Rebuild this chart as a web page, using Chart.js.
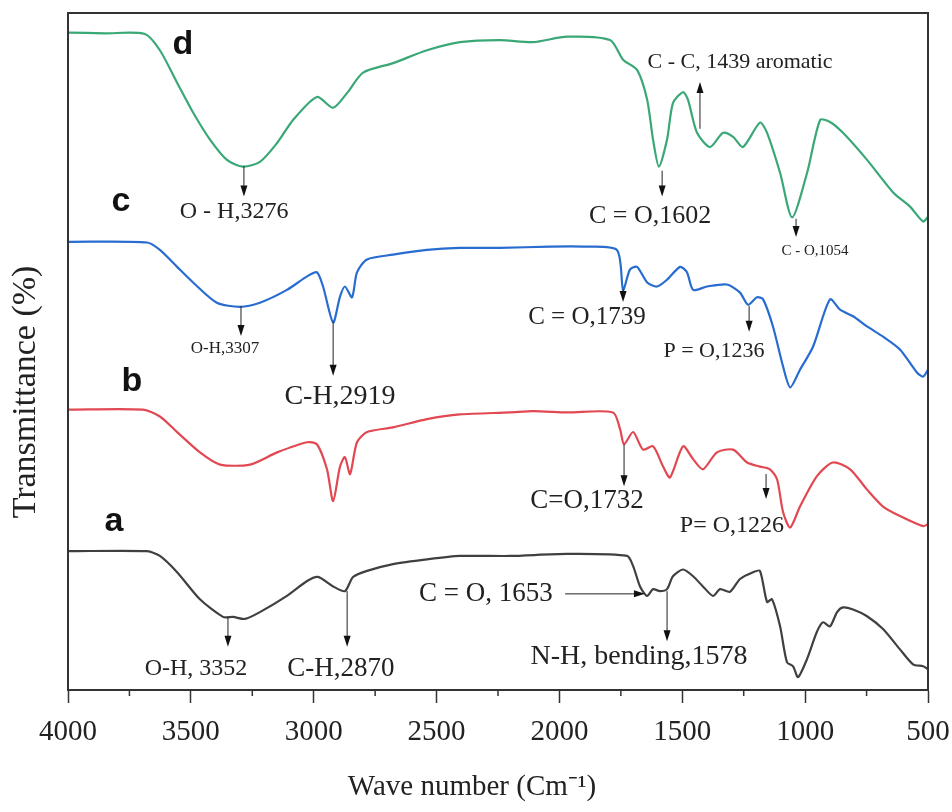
<!DOCTYPE html>
<html>
<head>
<meta charset="utf-8">
<script src="https://cdn.jsdelivr.net/npm/chart.js@4.4.1/dist/chart.umd.min.js"></script>
<style>
  html, body { margin: 0; padding: 0; background: #fff; }
</style>
</head>
<body>
<canvas id="ftirChart" width="952" height="812"></canvas>
<script>
// wavenumber (cm-1) and transmittance (arbitrary, stacked) for each sample
const waveD = [4000, 3850, 3687, 3626, 3556, 3491, 3422, 3353, 3288, 3219, 3149, 3084, 2987, 2921, 2864, 2799, 2677, 2539, 2405, 2242, 2107, 1969, 1794, 1741, 1684, 1643, 1619, 1595, 1562, 1538, 1497, 1477, 1440, 1387, 1334, 1293, 1253, 1184, 1155, 1102, 1053, 992, 939, 899, 846, 748, 642, 573, 520, 500];
const transD = [97.1, 97.0, 96.9, 94.5, 89.7, 85.3, 81.3, 78.3, 77.3, 78.0, 80.8, 84.2, 87.6, 86.0, 88.2, 91.2, 92.6, 94.5, 95.7, 96.0, 95.7, 96.5, 96.0, 93.1, 91.6, 87.2, 81.3, 77.3, 81.3, 86.7, 88.3, 87.2, 82.3, 80.2, 82.3, 81.7, 80.2, 83.8, 82.3, 76.4, 69.8, 76.4, 84.2, 83.9, 82.3, 78.3, 73.5, 71.4, 69.2, 69.9];

const waveC = [4000, 3678, 3626, 3556, 3491, 3394, 3300, 3219, 3109, 3027, 2987, 2962, 2921, 2893, 2873, 2844, 2824, 2783, 2677, 2539, 2405, 2242, 2038, 1904, 1766, 1741, 1713, 1684, 1643, 1603, 1562, 1509, 1481, 1456, 1399, 1318, 1265, 1232, 1196, 1171, 1131, 1090, 1061, 1021, 968, 899, 858, 805, 748, 683, 614, 545, 520, 500];
const transC = [66.2, 66.1, 65.0, 62.5, 60.2, 57.2, 56.6, 57.2, 59.1, 61.1, 61.7, 59.6, 54.3, 58.1, 59.6, 58.0, 61.7, 63.6, 64.3, 65.0, 65.3, 65.3, 65.5, 65.5, 65.0, 59.1, 62.1, 62.5, 60.2, 59.6, 60.6, 62.5, 61.7, 59.1, 59.6, 59.9, 58.7, 56.9, 58.0, 57.7, 53.7, 47.8, 44.7, 47.3, 50.7, 57.7, 56.2, 55.2, 53.7, 52.2, 50.3, 46.9, 46.3, 47.3];

const waveB = [4000, 3695, 3626, 3556, 3463, 3381, 3259, 3149, 3027, 2987, 2946, 2921, 2893, 2873, 2852, 2824, 2783, 2677, 2539, 2405, 2201, 2107, 1969, 1782, 1753, 1737, 1700, 1660, 1619, 1578, 1550, 1497, 1456, 1416, 1359, 1293, 1236, 1184, 1143, 1114, 1090, 1061, 1021, 952, 887, 817, 748, 683, 614, 520, 500];
const transB = [41.4, 41.4, 40.4, 38.1, 35.1, 33.3, 33.3, 35.1, 36.6, 36.3, 32.6, 27.9, 33.0, 34.4, 31.9, 36.6, 38.1, 38.8, 40.0, 40.7, 41.0, 41.2, 41.0, 41.0, 38.5, 36.3, 38.1, 35.5, 36.0, 33.0, 31.4, 36.0, 34.1, 32.6, 35.1, 35.5, 33.6, 33.0, 32.6, 31.1, 26.3, 24.0, 27.1, 31.6, 33.6, 32.6, 29.6, 27.1, 25.7, 24.2, 24.5];

const waveA = [4000, 3678, 3626, 3556, 3463, 3369, 3328, 3280, 3219, 3109, 3027, 2983, 2921, 2873, 2840, 2783, 2677, 2539, 2405, 2201, 1969, 1725, 1700, 1672, 1643, 1619, 1591, 1562, 1538, 1497, 1456, 1416, 1375, 1346, 1306, 1265, 1212, 1184, 1155, 1135, 1102, 1074, 1049, 1029, 992, 952, 927, 899, 870, 846, 805, 748, 683, 614, 561, 520, 500];
const transA = [20.5, 20.5, 19.8, 17.4, 13.4, 10.8, 10.8, 10.5, 11.5, 13.9, 16.1, 16.7, 15.3, 14.6, 16.7, 17.6, 18.6, 19.3, 19.8, 19.8, 20.1, 19.8, 18.3, 15.3, 13.9, 14.9, 14.6, 14.9, 16.8, 17.8, 16.8, 15.3, 13.9, 14.9, 14.5, 16.4, 17.4, 17.6, 13.0, 13.4, 9.4, 4.1, 3.5, 1.9, 4.6, 8.6, 10.0, 9.4, 11.5, 12.2, 11.9, 10.9, 9.0, 6.0, 3.8, 3.5, 3.1];

const xTicks = [4000, 3500, 3000, 2500, 2000, 1500, 1000, 500];

// peak labels: text, wavenumber, transmittance, font size
const peakLabels = [
    ['O - H,3276', 3324, 70.6, 24],
    ['C = O,1602', 1631, 70.0, 26],
    ['C - C, 1439 aromatic', 1265, 92.8, 22],
    ['C - O,1054', 960, 64.8, 15],
    ['O-H,3307', 3361, 50.4, 17],
    ['C-H,2919', 2893, 43.4, 28],
    ['C = O,1739', 1888, 55.1, 25],
    ['P = O,1236', 1371, 50.1, 22],
    ['C=O,1732', 1888, 27.9, 27],
    ['P= O,1226', 1298, 24.2, 24],
    ['O-H, 3352', 3479, 3.1, 24],
    ['C-H,2870', 2889, 3.1, 27],
    ['C = O, 1653', 2299, 14.2, 27],
    ['N-H, bending,1578', 1676, 4.9, 28]
];

// arrows: from (wave, trans) to (wave, trans), head at the end
const peakArrows = [
    [3284, 77.4, 3284, 72.9],
    [1582, 76.7, 1582, 72.9],
    [1428, 82.9, 1428, 89.8],
    [1037, 69.6, 1037, 66.9],
    [3296, 56.7, 3296, 52.3],
    [2921, 54.4, 2921, 46.4],
    [1741, 59.2, 1741, 57.3],
    [1228, 56.7, 1228, 52.9],
    [1737, 36.3, 1737, 30.1],
    [1159, 31.9, 1159, 28.2],
    [3349, 10.8, 3349, 6.4],
    [2864, 14.6, 2864, 6.4],
    [1562, 14.6, 1562, 7.2],
    [1977, 14.2, 1652, 14.2]
];

// sample letters
const sampleTags = [['d', 3532, 95.4], ['c', 3784, 72.1], ['b', 3740, 45.6], ['a', 3813, 24.9]];

const serif = "'Liberation Serif', 'Times New Roman', serif";

function toPoints(xs, ys) {
    return xs.map((w, i) => ({ x: w, y: ys[i] }));
}

function drawArrow(ctx, x1, y1, x2, y2) {
    const a = Math.atan2(y2 - y1, x2 - x1);
    const c = Math.cos(a), s = Math.sin(a);
    ctx.beginPath();
    ctx.moveTo(x1, y1);
    ctx.lineTo(x2 - 8 * c, y2 - 8 * s);
    ctx.stroke();
    ctx.beginPath();
    ctx.moveTo(x2, y2);
    ctx.lineTo(x2 - 11 * c + 3.5 * s, y2 - 11 * s - 3.5 * c);
    ctx.lineTo(x2 - 11 * c - 3.5 * s, y2 - 11 * s + 3.5 * c);
    ctx.closePath();
    ctx.fill();
}

const notesPlugin = {
    id: 'notes',
    afterDraw(chart) {
        const { ctx, chartArea, scales } = chart;
        const x = scales.x, y = scales.y;
        ctx.save();

        // frame around the plot
        ctx.strokeStyle = '#333';
        ctx.lineWidth = 2;
        ctx.strokeRect(chartArea.left, chartArea.top, chartArea.right - chartArea.left, chartArea.bottom - chartArea.top);

        // minor ticks
        ctx.lineWidth = 1.5;
        for (let w = 750; w < 4000; w += 500) {
            const px = x.getPixelForValue(w);
            ctx.beginPath();
            ctx.moveTo(px, chartArea.bottom);
            ctx.lineTo(px, chartArea.bottom + 6);
            ctx.stroke();
        }

        // arrows
        ctx.strokeStyle = '#222';
        ctx.fillStyle = '#111';
        ctx.lineWidth = 1;
        peakArrows.forEach(a => {
            drawArrow(ctx, x.getPixelForValue(a[0]), y.getPixelForValue(a[1]),
                x.getPixelForValue(a[2]), y.getPixelForValue(a[3]));
        });

        // labels
        ctx.textAlign = 'center';
        ctx.textBaseline = 'middle';
        ctx.fillStyle = '#222';
        peakLabels.forEach(l => {
            ctx.font = l[3] + 'px ' + serif;
            ctx.fillText(l[0], x.getPixelForValue(l[1]), y.getPixelForValue(l[2]));
        });

        ctx.font = "bold 34px 'Liberation Sans', Arial, sans-serif";
        ctx.fillStyle = '#111';
        sampleTags.forEach(t => {
            ctx.fillText(t[0], x.getPixelForValue(t[1]), y.getPixelForValue(t[2]));
        });

        // axis titles
        ctx.fillStyle = '#222';
        ctx.font = '29px ' + serif;
        ctx.fillText('Wave number (Cm\u207B\u00B9)', 472, 787);
        ctx.translate(26, 392);
        ctx.rotate(-Math.PI / 2);
        ctx.font = '34px ' + serif;
        ctx.fillText('Transmittance (%)', 0, 0);
        ctx.restore();
    }
};

const ctx = document.getElementById('ftirChart');

new Chart(ctx, {
    type: 'line',
    data: {
        datasets: [
            { label: 'd', data: toPoints(waveD, transD), borderColor: 'rgb(58, 168, 118)' },
            { label: 'c', data: toPoints(waveC, transC), borderColor: 'rgb(40, 108, 208)' },
            { label: 'b', data: toPoints(waveB, transB), borderColor: 'rgb(226, 72, 82)' },
            { label: 'a', data: toPoints(waveA, transA), borderColor: 'rgb(64, 64, 64)' }
        ]
    },
    options: {
        responsive: false,
        animation: false,
        devicePixelRatio: 1,
        layout: { padding: { top: 13, right: 24, left: 0, bottom: 0 } },
        elements: {
            line: { borderWidth: 2.2, tension: 0.25, fill: false },
            point: { radius: 0 }
        },
        plugins: {
            legend: { display: false },
            tooltip: { enabled: false }
        },
        scales: {
            x: {
                type: 'linear',
                reverse: true,
                min: 500,
                max: 4000,
                afterBuildTicks: (axis) => { axis.ticks = xTicks.map(v => ({ value: v })); },
                afterFit: (axis) => {
                    axis.height = 122;
                    axis.paddingLeft = 0;
                    axis.paddingRight = 0;
                },
                ticks: {
                    color: '#222',
                    font: { family: serif, size: 29 },
                    padding: 12,
                    maxRotation: 0,
                    callback: (v) => String(v)
                },
                grid: {
                    drawOnChartArea: false,
                    tickLength: 13,
                    tickColor: '#333',
                    tickWidth: 1.5
                },
                border: { color: '#333', width: 2 }
            },
            y: {
                min: 0,
                max: 100,
                afterFit: (axis) => { axis.width = 68; },
                ticks: { display: false },
                grid: { display: false },
                border: { color: '#333', width: 2 }
            }
        }
    },
    plugins: [notesPlugin]
});
</script>
</body>
</html>
